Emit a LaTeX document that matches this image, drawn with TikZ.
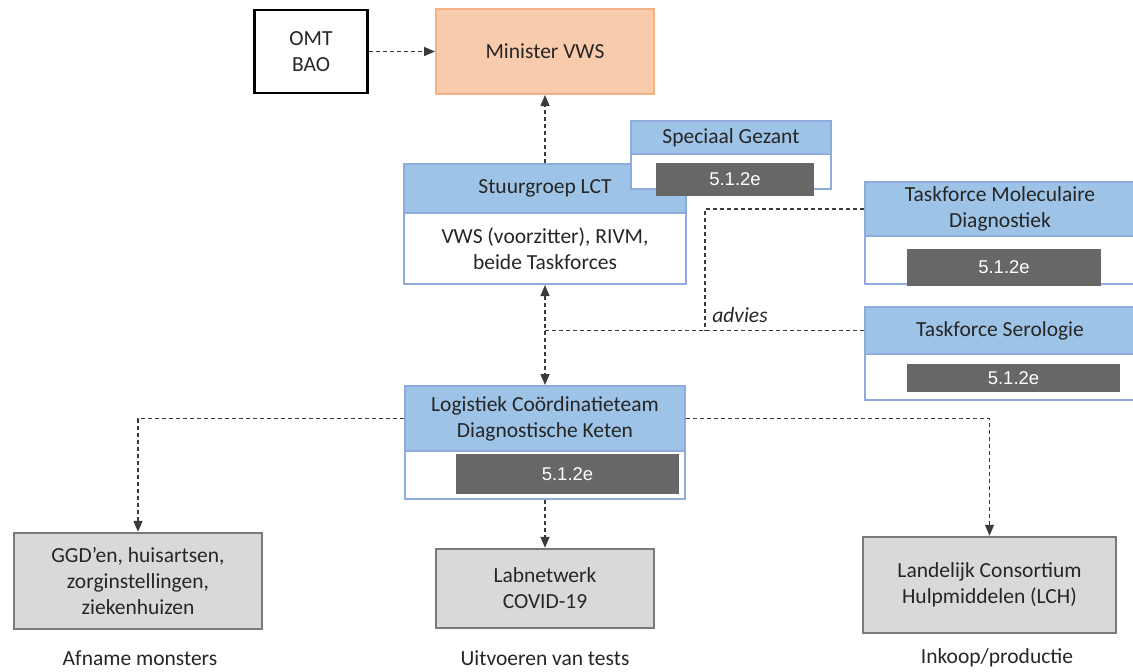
\documentclass[tikz,border=0pt]{standalone}
\usepackage{fontspec}
\setmainfont{Carlito}
\newfontfamily\redfont{Liberation Sans}
\usetikzlibrary{arrows.meta}
\definecolor{minfill}{HTML}{F8CBAD}
\definecolor{minline}{HTML}{F4B183}
\definecolor{hdrfill}{HTML}{9DC3E6}
\definecolor{hdrline}{HTML}{8FAADC}
\definecolor{unitfill}{HTML}{D9D9D9}
\definecolor{unitline}{HTML}{7A7A7A}
\definecolor{redact}{HTML}{676767}
\definecolor{conn}{HTML}{3A3A3A}
\begin{document}
\begin{tikzpicture}[x=1pt,y=-1pt,
  every node/.style={font=\fontsize{21.5}{26}\selectfont, text=black!85, align=center, inner sep=0pt},
  box/.style={draw, line width=2pt, minimum width=#1},
  hdr/.style={box=#1, fill=hdrfill, draw=hdrline},
  body/.style={box=#1, fill=white, draw=hdrline},
  unit/.style={box=#1, fill=unitfill, draw=unitline, line width=2.5pt},
  redbox/.style={fill=redact, text=white, font=\redfont\fontsize{18.5}{20}\selectfont, minimum width=#1},
  link/.style={draw=conn, line width=1.3pt, dash pattern=on 4pt off 3pt},
  arr/.style={link, -{Triangle[length=11pt,width=9pt]}}]
\useasboundingbox (0,0) rectangle (1133,672);
\node[box=113pt, minimum height=83pt, draw=black, line width=2.5pt] (omt) at (311,51.5) {OMT\\BAO};
\node[box=218pt, minimum height=85pt, fill=minfill, draw=minline] (min) at (545,51.5) {Minister VWS};
% Stuurgroep
\node[hdr=282pt, minimum height=49pt] (sg) at (545,188.5) {Stuurgroep LCT};
\node[body=282pt, minimum height=71pt] (sgbody) at (545,248.5) {VWS (voorzitter), RIVM,\\beide Taskforces};
% Speciaal Gezant
\node[hdr=200pt, minimum height=33pt] (gez) at (731,137.5) {Speciaal Gezant};
\node[body=200pt, minimum height=35pt] (gezbody) at (731,171.5) {};
\node[redbox=158pt, minimum height=33pt] (gezred) at (735,179.5) {5.1.2e};
% Taskforces
\node[hdr=270pt, minimum height=54pt] (tmd) at (1000,209) {Taskforce Moleculaire\\Diagnostiek};
\node[body=270pt, minimum height=48pt] (tmdbody) at (1000,260) {};
\node[redbox=194pt, minimum height=37pt] (tmdred) at (1004,267.5) {5.1.2e};
\node[hdr=270pt, minimum height=47pt] (tser) at (1000,330.5) {Taskforce Serologie};
\node[body=270pt, minimum height=46pt] (tserbody) at (1000,377) {};
\node[redbox=213pt, minimum height=28pt] (tserred) at (1013.5,378) {5.1.2e};
% LCT
\node[hdr=280pt, minimum height=65pt] (lct) at (545,418.5) {Logistiek Coördinatieteam\\Diagnostische Keten};
\node[body=280pt, minimum height=48pt] (lctbody) at (545,475) {};
\node[redbox=223pt, minimum height=40pt] (lctred) at (567.5,474) {5.1.2e};
% uitvoering
\node[unit=248pt, minimum height=96pt] (ggd) at (138,581) {GGD’en, huisartsen,\\zorginstellingen,\\ziekenhuizen};
\node[unit=218pt, minimum height=79pt] (lab) at (545,588.5) {Labnetwerk\\COVID-19};
\node[unit=253pt, minimum height=96pt] (lch) at (989.5,585) {Landelijk Consortium\\Hulpmiddelen (LCH)};
\node (ggdlbl) at (140,658) {Afname monsters};
\node (lablbl) at (545,658) {Uitvoeren van tests};
\node (lchlbl) at (997,658) {Inkoop/productie};
% verbindingen
\draw[arr] (omt) -- (min);
\draw[arr] (sg) -- (min);
\draw[arr, {Triangle[length=11pt,width=9pt]}-{Triangle[length=11pt,width=9pt]}] (sgbody) -- (lct);
\coordinate (tfjoin) at (tser.west -| sgbody.south);
\coordinate (tfbend) at (705,330.5);
\draw[link] (tmd.west) -| (tfbend);
\draw[link] (tser.west) -- (tfjoin);
\node[font=\itshape\fontsize{21.5}{26}\selectfont] (adv) at (740,315) {advies};
\draw[arr] (lct.west) -| (ggd.north);
\draw[arr] (lct.east) -| (lch.north);
\draw[arr] (lctbody) -- (lab);
\end{tikzpicture}
\end{document}
